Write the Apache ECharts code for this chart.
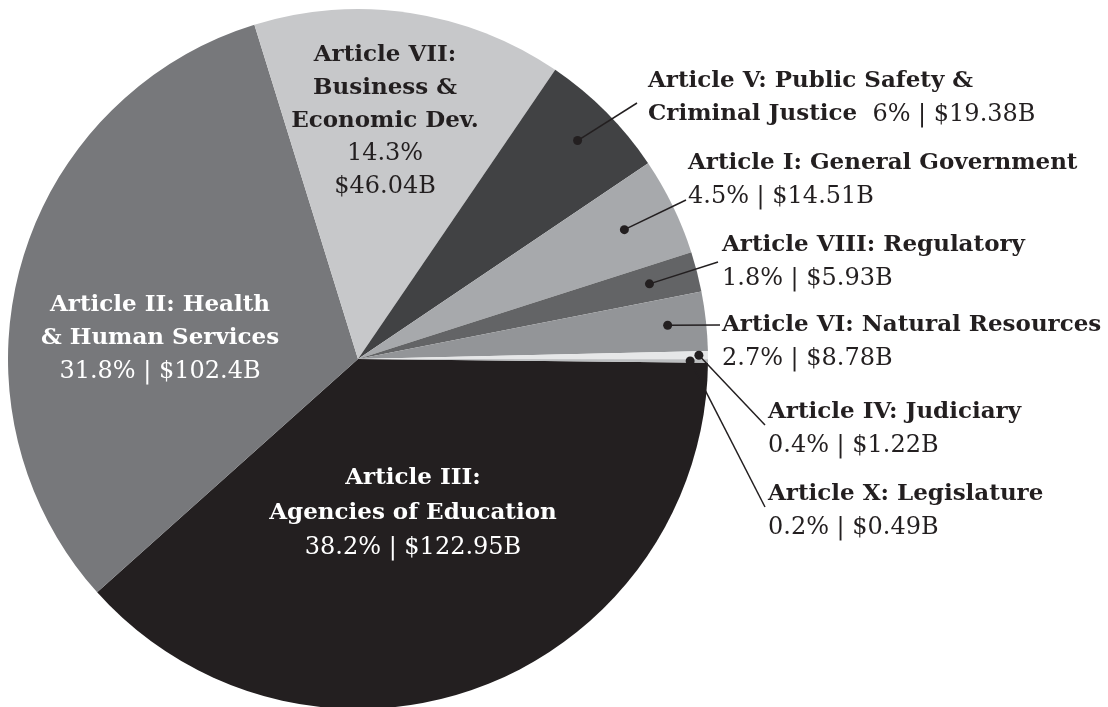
<!DOCTYPE html>
<html>
<head>
<meta charset="utf-8">
<script src="https://cdn.jsdelivr.net/npm/echarts@6/dist/echarts.min.js"></script>
<style>
html, body { margin: 0; padding: 0; background: #fff; }
#main { width: 1108px; height: 707px; }
</style>
</head>
<body>
<div id="main"></div>
<script>
// budget by article, billions of dollars
var names = [
    'Article III:\nAgencies of Education',
    'Article II: Health\n& Human Services',
    'Article VII:\nBusiness &\nEconomic Dev.',
    'Article V: Public Safety &\nCriminal Justice',
    'Article I: General Government',
    'Article VIII: Regulatory',
    'Article VI: Natural Resources',
    'Article IV: Judiciary',
    'Article X: Legislature'
];
var shares = [38.2, 31.8, 14.3, 6, 4.5, 1.8, 2.7, 0.4, 0.2];
var billions = [122.95, 102.4, 46.04, 19.38, 14.51, 5.93, 8.78, 1.22, 0.49];
var colors = ['#231f20', '#77787b', '#c7c8ca', '#414244', '#a7a9ac', '#636466', '#939598', '#e6e7e8', '#bcbec0'];

var CX = 358, CY = 359, R = 350, START = -0.6;
var INK = '#231f20';
var FONT = 'DejaVu Serif';

// where each label sits; outside ones get a leader from a dot inside the slice
var labelSpots = [
    {x: 413, y: 513, lh: 35, align: 'center', color: '#fff'},
    {x: 160, y: 338.5, lh: 33.5, align: 'center', color: '#fff'},
    {x: 385, y: 121, lh: 33, align: 'center', color: INK, vals: 'stack'},
    {x: 648, y: 98, dot: 0.885, ex: 637, ey: 103, vals: 'inline'},
    {x: 688, y: 180, dot: 0.846, ex: 686, ey: 200},
    {x: 722, y: 262, dot: 0.86, ex: 718, ey: 262},
    {x: 722, y: 342, dot: 0.89, ex: 720, ey: 325},
    {x: 768, y: 429, dot: 0.974, ex: 765, ey: 425},
    {x: 768, y: 511, dot: 0.949, ex: 765, ey: 507}
];

var total = billions.reduce(function (a, b) { return a + b; }, 0);
var mids = [];
var run = 0;
billions.forEach(function (v) {
    mids.push(run + v / 2);
    run += v;
});

var pieData = names.map(function (n, i) {
    var s = labelSpots[i];
    var item = {name: n, value: billions[i], itemStyle: {color: colors[i]}};
    if (!s.dot) {
        item.label = {
            position: 'inside',
            color: s.color,
            rich: {
                b: {fontFamily: FONT, fontWeight: 'bold', fontSize: 23, lineHeight: s.lh},
                r: {fontFamily: FONT, fontWeight: 'normal', fontSize: 24, lineHeight: s.lh}
            }
        };
    }
    return item;
});

var leaders = [];
labelSpots.forEach(function (s, i) {
    if (s.dot) leaders.push([s.dot, mids[i], i]);
});

var option = {
    animation: false,
    polar: {center: [CX, CY], radius: R},
    angleAxis: {
        type: 'value', min: 0, max: total, startAngle: START, clockwise: true,
        axisLine: {show: false}, axisTick: {show: false}, axisLabel: {show: false}, splitLine: {show: false}
    },
    radiusAxis: {
        type: 'value', min: 0, max: 1,
        axisLine: {show: false}, axisTick: {show: false}, axisLabel: {show: false}, splitLine: {show: false}
    },
    series: [
        {
            type: 'pie',
            center: [CX, CY],
            radius: [0, R],
            startAngle: START,
            clockwise: true,
            avoidLabelOverlap: false,
            silent: true,
            data: pieData,
            itemStyle: {borderWidth: 0},
            label: {
                show: true,
                position: 'outside',
                color: INK,
                fontFamily: FONT,
                fontSize: 23,
                formatter: function (p) {
                    var i = p.dataIndex;
                    var lines = names[i].split('\n').map(function (s) { return '{b|' + s + '}'; });
                    var pct = shares[i] + '%', amt = '$' + billions[i] + 'B';
                    var mode = labelSpots[i].vals;
                    if (mode === 'inline') {
                        lines[lines.length - 1] += '{r|  ' + pct + ' | ' + amt + '}';
                    } else if (mode === 'stack') {
                        lines.push('{r|' + pct + '}', '{r|' + amt + '}');
                    } else {
                        lines.push('{r|' + pct + ' | ' + amt + '}');
                    }
                    return lines.join('\n');
                },
                rich: {
                    b: {fontFamily: FONT, fontWeight: 'bold', fontSize: 23, lineHeight: 33},
                    r: {fontFamily: FONT, fontWeight: 'normal', fontSize: 24, lineHeight: 33}
                }
            },
            labelLine: {show: false},
            labelLayout: function (p) {
                var s = labelSpots[p.dataIndex];
                return {x: s.x, y: s.y, align: s.align || 'left', verticalAlign: 'middle'};
            }
        },
        {
            // leader lines: dot inside the slice, line out to its label
            type: 'custom',
            coordinateSystem: 'polar',
            silent: true,
            z: 5,
            data: leaders,
            renderItem: function (params, api) {
                var p = api.coord([api.value(0), api.value(1)]);
                var s = labelSpots[api.value(2)];
                return {
                    type: 'group',
                    children: [
                        {type: 'line', shape: {x1: p[0], y1: p[1], x2: s.ex, y2: s.ey}, style: {stroke: INK, lineWidth: 1.5}},
                        {type: 'circle', shape: {cx: p[0], cy: p[1], r: 4.5}, style: {fill: INK}}
                    ]
                };
            }
        }
    ]
};

var chart = echarts.init(document.getElementById('main'));
chart.setOption(option);
</script>
</body>
</html>
